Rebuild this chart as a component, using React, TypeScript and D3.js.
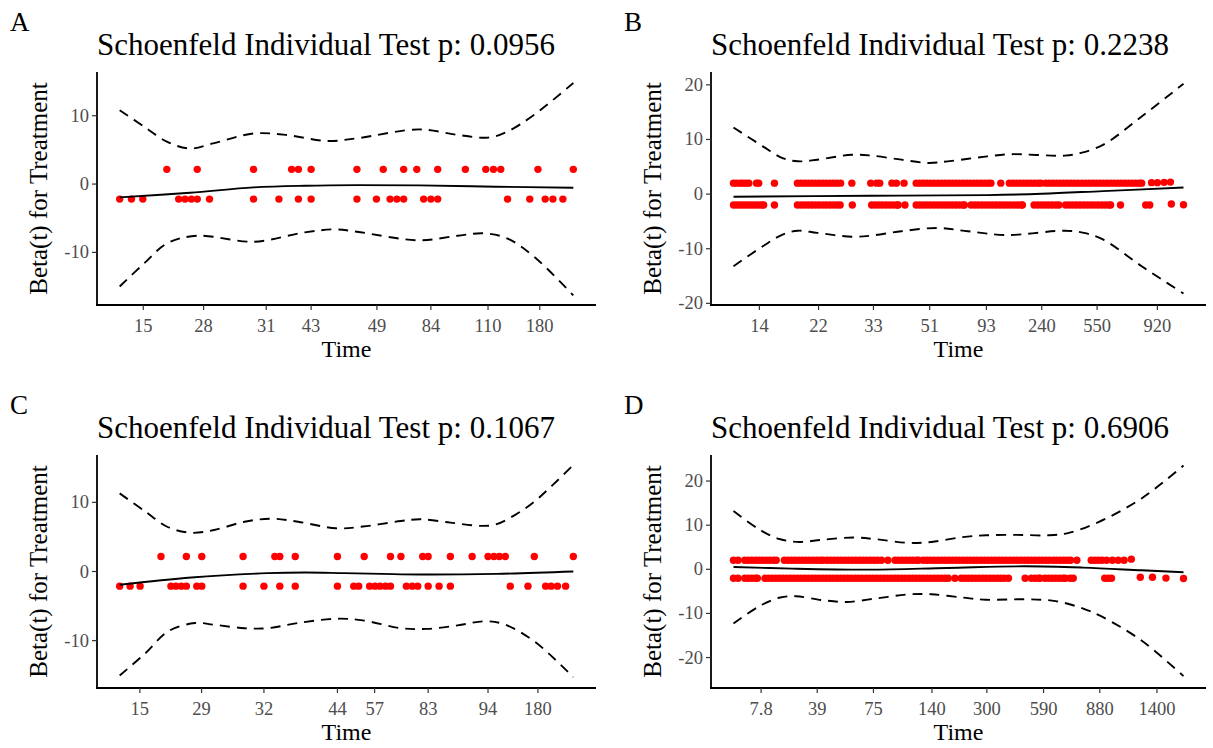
import React from "react";
import * as d3 from "d3";

// ---------- Panel A ----------
const A_TITLE = "Schoenfeld Individual Test p: 0.0956";
const A_TICK_POS = [5.2, 18.5, 32.3, 42.2, 56.7, 68.6, 81.2, 92.6];
const A_TICK_LABELS = ["15", "28", "31", "43", "49", "84", "110", "180"];
const A_Y_TICKS = [-10, 0, 10];
const A_Y_DOMAIN = [-17.7, 16.4];
const A_UP_Y = 2.15;
const A_UP_X = [10.4, 17.1, 29.5, 37.9, 39.4, 42.2, 52.3, 58.1, 62.6, 65.5, 70.1, 76.2, 80.7, 82.4, 84.0, 92.2, 100];
const A_LO_Y = -2.2;
const A_LO_X = [0, 2.6, 5.1, 13.0, 14.4, 15.8, 17.1, 19.8, 29.5, 35.1, 39.4, 42.2, 52.3, 56.6, 59.6, 61.1, 62.6, 67.0, 68.6, 70.1, 85.5, 90.4, 93.8, 95.5, 97.7];
const A_EXTRA: [number, number][] = [];
const A_FIT: [number, number][] = [[0, -1.95], [15.5, -1.27], [29.5, -0.49], [40.8, -0.24], [52.3, -0.15], [66.0, -0.2], [82.9, -0.39], [100, -0.54]];
const A_CI_UP: [number, number][] = [[0, 10.8], [5.4, 8.4], [10.4, 6.2], [15.5, 5.2], [20.6, 5.95], [29.5, 7.4], [36.6, 7.2], [45.8, 6.3], [52.3, 6.7], [66.0, 8.0], [74.5, 7.2], [81.2, 6.8], [85.4, 7.66], [91.3, 10.1], [100, 14.8]];
const A_CI_LO: [number, number][] = [[0, -15.0], [5.4, -11.6], [10.4, -8.7], [17.0, -7.56], [29.5, -8.44], [40.8, -7.07], [47.5, -6.63], [52.3, -6.98], [66.0, -8.24], [74.5, -7.56], [80.4, -7.22], [85.4, -7.95], [91.3, -10.6], [100, -16.3]];

// ---------- Panel B ----------
const B_TITLE = "Schoenfeld Individual Test p: 0.2238";
const B_TICK_POS = [5.75, 18.9, 31.1, 43.6, 56.2, 68.5, 80.8, 94.2];
const B_TICK_LABELS = ["14", "22", "33", "51", "93", "240", "550", "920"];
const B_Y_TICKS = [-20, -10, 0, 10, 20];
const B_Y_DOMAIN = [-20.3, 22.35];
const B_UP_Y = 2.0;
const B_UP_X = [0, 0.7, 1.5, 2.1, 2.8, 3.4, 5.1, 5.6, 9.1,
  14.2, 15.0, 15.8, 16.6, 17.4, 18.2, 19.0, 19.8, 20.6, 21.4, 22.2, 23.0, 23.8,
  26.3, 30.5, 31.8, 32.5, 35.2, 36.2, 37.9,
  40.6, 41.4, 42.2, 43.0, 43.8, 44.6, 45.4, 46.2, 47.0, 47.8, 48.6, 49.4, 50.2, 51.0, 51.8, 52.6, 53.4, 54.2, 55.0, 55.8, 56.6, 57.2,
  59.4,
  61.3, 62.1, 62.9, 63.7, 64.5, 65.3, 66.1, 66.9, 67.7, 68.3,
  69.4, 70.2, 71.0, 71.8, 72.6, 73.4, 74.2, 75.0, 75.8, 76.6, 77.4, 78.2, 79.0, 79.8, 80.6, 81.4, 82.2, 83.0, 83.8, 84.6, 85.4, 86.2, 87.0, 87.8, 88.6, 89.4, 90.2, 90.7];
const B_LO_Y = -2.0;
const B_LO_X = [0, 0.7, 1.4, 2.1, 2.8, 3.5, 4.2, 4.9, 5.6, 6.3, 6.7, 9.1,
  14.2, 15.0, 15.8, 16.6, 17.4, 18.2, 19.0, 19.8, 20.6, 21.4, 22.2, 23.0, 23.7,
  26.4, 30.7, 31.5, 32.3, 33.1, 33.9, 34.7, 35.5, 36.3, 36.6, 38.1,
  40.6, 41.4, 42.2, 43.0, 43.8, 44.6, 45.4, 46.2, 47.0, 47.8, 48.6, 49.4, 50.2, 51.0, 51.3,
  52.8, 53.6, 54.4, 55.2, 56.0, 56.8, 57.6, 58.4, 59.2, 60.0, 60.8, 61.6, 62.4, 63.2, 64.0, 64.2,
  66.8, 67.6, 68.4, 69.2, 70.0, 70.8, 71.6, 72.3,
  73.8, 74.6, 75.4, 76.2, 77.0, 77.8, 78.6, 79.4, 80.2, 81.0, 81.8, 82.6, 83.4, 83.8,
  86.0, 91.6, 92.5];
const B_EXTRA: [number, number][] = [[92.9, 2.1], [94.2, 2.1], [95.7, 2.15], [97.1, 2.2], [97.3, -1.8], [100, -1.95]];
const B_FIT: [number, number][] = [[0, -0.49], [30.6, -0.3], [56.4, -0.18], [68.5, 0.06], [82.1, 0.55], [100, 1.2]];
const B_CI_UP: [number, number][] = [[0, 12.2], [6.6, 8.7], [10.9, 6.6], [14.3, 6.0], [18.6, 6.3], [26.3, 7.2], [30.6, 7.05], [37.3, 6.3], [43.3, 5.7], [47.6, 6.0], [56.4, 6.9], [61.5, 7.3], [73.6, 7.05], [77.0, 7.5], [82.1, 9.0], [90.7, 14.2], [100, 20.2]];
const B_CI_LO: [number, number][] = [[0, -13.2], [6.6, -9.5], [10.9, -7.4], [14.3, -6.7], [18.6, -7.1], [26.3, -7.8], [30.6, -7.6], [37.3, -6.8], [45.3, -6.2], [52.1, -6.8], [60.7, -7.5], [73.6, -6.7], [77.9, -7.1], [82.1, -8.3], [90.7, -13.2], [100, -18.2]];

// ---------- Panel C ----------
const C_TITLE = "Schoenfeld Individual Test p: 0.1067";
const C_TICK_POS = [4.45, 18.05, 31.8, 48.0, 56.2, 68.0, 81.2, 92.2];
const C_TICK_LABELS = ["15", "29", "32", "44", "57", "83", "94", "180"];
const C_Y_TICKS = [-10, 0, 10];
const C_Y_DOMAIN = [-16.85, 16.85];
const C_UP_Y = 2.16;
const C_UP_X = [9.1, 14.7, 18.1, 27.2, 34.2, 35.3, 38.7, 48.0, 53.9, 59.7, 62.0, 66.8, 68.0, 72.9, 77.7, 81.2, 82.5, 83.7, 85.0, 91.4, 100];
const C_LO_Y = -2.12;
const C_LO_X = [0, 2.3, 4.5, 11.3, 12.4, 13.6, 14.7, 17.0, 18.1, 27.2, 31.8, 35.3, 38.7, 48.0, 51.6, 52.7, 55.1, 56.3, 57.4, 58.6, 59.7, 63.2, 64.5, 65.7, 68.0, 70.4, 72.9, 86.1, 90.0, 93.9, 95.1, 96.5, 98.3];
const C_EXTRA: [number, number][] = [];
const C_FIT: [number, number][] = [[0, -1.92], [15.8, -0.87], [32.6, -0.24], [41.0, -0.14], [49.4, -0.24], [57.8, -0.34], [66.2, -0.43], [83.0, -0.34], [100, 0]];
const C_CI_UP: [number, number][] = [[0, 11.3], [5.7, 8.65], [10.7, 6.4], [15.8, 5.6], [20.8, 6.0], [27.5, 7.2], [33.4, 7.64], [39.3, 7.2], [47.7, 6.25], [53.6, 6.5], [62.0, 7.3], [66.2, 7.55], [72.9, 7.07], [79.6, 6.6], [82.9, 6.8], [87.2, 8.2], [91.4, 10.1], [100, 15.4]];
const C_CI_LO: [number, number][] = [[0, -15.05], [5.7, -11.8], [10.7, -8.65], [16.6, -7.45], [20.8, -7.7], [27.5, -8.2], [32.6, -8.2], [39.3, -7.45], [47.7, -6.83], [53.6, -7.07], [62.0, -8.2], [67.8, -8.3], [74.5, -7.8], [80.4, -7.2], [84.6, -7.6], [91.4, -10.1], [100, -15.3]];

// ---------- Panel D ----------
const D_TITLE = "Schoenfeld Individual Test p: 0.6906";
const D_TICK_POS = [6.13, 18.6, 31.1, 44.1, 56.3, 68.9, 81.4, 94.1];
const D_TICK_LABELS = ["7.8", "39", "75", "140", "300", "590", "880", "1400"];
const D_Y_TICKS = [-20, -10, 0, 10, 20];
const D_Y_DOMAIN = [-26.9, 25.9];
const D_UP_Y = 2.04;
const D_UP_X = [0, 1.0, 2.5, 3.3, 4.1, 4.9, 5.7, 6.5, 7.3, 8.1, 8.9, 9.5,
  11.3, 12.1, 12.9, 13.7, 14.5, 15.3, 16.1, 16.9, 17.7, 18.5, 19.3, 19.9,
  20.8, 21.6, 22.4, 23.2, 24.0, 24.8, 25.6, 26.4, 27.2, 28.0, 28.8, 29.6, 30.4, 31.2, 32.0, 32.9,
  34.3, 35.9, 36.7, 37.5, 38.3, 39.1, 39.9, 40.7, 41.1,
  42.2, 43.0, 43.8, 44.6, 45.4, 46.2, 47.0, 47.8, 48.6, 49.4, 50.2, 51.0, 51.8, 52.6, 53.4, 54.2, 55.0, 55.8, 56.6, 57.4, 58.2, 59.0, 59.8, 60.6, 61.4, 62.2, 63.0, 63.8, 64.6, 65.4, 66.2, 67.0, 67.8, 68.6, 69.4, 70.2, 71.1,
  71.8, 72.6, 73.4, 74.2, 74.9, 76.3,
  79.5, 80.3, 81.1, 81.9, 82.9,
  84.2, 85.5, 86.8];
const D_LO_Y = -2.04;
const D_LO_X = [0, 1.0, 2.5, 3.3, 4.1, 4.9, 5.3,
  7.0, 7.8, 8.6, 9.4, 10.2, 11.0, 11.8, 12.6,
  13.4, 14.2, 15.0, 15.8, 16.6, 17.4, 18.2, 19.0, 19.8, 20.6, 21.4, 22.2,
  23.0, 23.8, 24.6, 25.4, 26.2, 27.0, 27.8, 28.6, 29.4, 30.2, 31.0, 31.8, 32.6, 33.4, 34.2, 35.0, 35.8, 36.6, 37.4, 38.2, 39.0, 39.8, 40.6, 41.4, 42.2, 43.0, 43.8, 44.6, 45.4, 46.2, 47.0, 47.7,
  49.2,
  50.6, 51.4, 52.2, 53.0, 53.8, 54.6, 55.4, 56.2, 57.0, 57.8, 58.6, 59.4, 60.2, 61.1,
  64.8, 66.2, 67.0, 67.8, 68.1,
  69.2, 70.0, 70.8, 71.6, 72.4, 73.2, 73.7,
  74.8, 75.5,
  82.5, 83.3, 84.0];
const D_EXTRA: [number, number][] = [[88.4, 2.3], [90.4, -1.8], [93.1, -1.8], [96.1, -2.0], [100, -2.1]];
const D_FIT: [number, number][] = [[0, 0.53], [13.0, 0.15], [30.3, -0.08], [47.5, 0.3], [64.8, 0.68], [77.7, 0.38], [90.6, -0.23], [100, -0.68]];
const D_CI_UP: [number, number][] = [[0, 13.2], [6.1, 8.8], [10.4, 6.8], [14.7, 6.2], [19.8, 6.7], [26.7, 7.2], [31.8, 6.8], [38.7, 6.0], [44.0, 6.2], [50.9, 7.3], [56.1, 7.7], [63.0, 7.8], [69.9, 7.7], [74.3, 8.2], [81.1, 10.7], [90.6, 16.0], [100, 23.5]];
const D_CI_LO: [number, number][] = [[0, -12.3], [6.1, -8.15], [10.4, -6.4], [13.9, -6.1], [19.8, -7.0], [25.1, -7.4], [31.8, -6.6], [38.7, -5.7], [44.0, -5.66], [50.9, -6.4], [56.1, -6.9], [64.8, -6.8], [71.6, -7.2], [77.7, -8.9], [82.0, -10.8], [90.6, -16.1], [100, -24.2]];

const FONT = "'Liberation Serif', 'Times New Roman', serif";

type PanelData = {
  label: string; title: string;
  tickPos: number[]; tickLabels: string[]; yTicks: number[]; yDomain: number[];
  upY: number; upX: number[]; loY: number; loX: number[]; extra: [number, number][];
  fit: [number, number][]; ciUp: [number, number][]; ciLo: [number, number][];
};
type Box = { left: number; right: number; top: number; bottom: number; labelX: number };

const PANELS: PanelData[] = [
  { label: "A", title: A_TITLE, tickPos: A_TICK_POS, tickLabels: A_TICK_LABELS, yTicks: A_Y_TICKS, yDomain: A_Y_DOMAIN, upY: A_UP_Y, upX: A_UP_X, loY: A_LO_Y, loX: A_LO_X, extra: A_EXTRA, fit: A_FIT, ciUp: A_CI_UP, ciLo: A_CI_LO },
  { label: "B", title: B_TITLE, tickPos: B_TICK_POS, tickLabels: B_TICK_LABELS, yTicks: B_Y_TICKS, yDomain: B_Y_DOMAIN, upY: B_UP_Y, upX: B_UP_X, loY: B_LO_Y, loX: B_LO_X, extra: B_EXTRA, fit: B_FIT, ciUp: B_CI_UP, ciLo: B_CI_LO },
  { label: "C", title: C_TITLE, tickPos: C_TICK_POS, tickLabels: C_TICK_LABELS, yTicks: C_Y_TICKS, yDomain: C_Y_DOMAIN, upY: C_UP_Y, upX: C_UP_X, loY: C_LO_Y, loX: C_LO_X, extra: C_EXTRA, fit: C_FIT, ciUp: C_CI_UP, ciLo: C_CI_LO },
  { label: "D", title: D_TITLE, tickPos: D_TICK_POS, tickLabels: D_TICK_LABELS, yTicks: D_Y_TICKS, yDomain: D_Y_DOMAIN, upY: D_UP_Y, upX: D_UP_X, loY: D_LO_Y, loX: D_LO_X, extra: D_EXTRA, fit: D_FIT, ciUp: D_CI_UP, ciLo: D_CI_LO },
];

const BOXES: Box[] = [
  { left: 97, right: 596, top: 72, bottom: 305, labelX: 10 },
  { left: 711, right: 1206, top: 72, bottom: 305, labelX: 624 },
  { left: 97, right: 596, top: 455, bottom: 688, labelX: 10 },
  { left: 711, right: 1206, top: 455, bottom: 688, labelX: 624 },
];

function Panel({ d, b }: { d: PanelData; b: Box }) {
  const x = d3.scaleLinear().domain([-5, 105]).range([b.left, b.right]);
  const y = d3.scaleLinear().domain(d.yDomain).range([b.bottom, b.top]);
  const line = d3.line<[number, number]>().x((p) => x(p[0])).y((p) => y(p[1])).curve(d3.curveCatmullRom.alpha(0.5));
  const pts: [number, number][] = [
    ...d.upX.map((v) => [v, d.upY] as [number, number]),
    ...d.loX.map((v) => [v, d.loY] as [number, number]),
    ...d.extra,
  ];
  const yTitleCx = (b.top + b.bottom) / 2;
  return (
    <g fontFamily={FONT}>
      <text x={b.labelX} y={b.top - 41} fontSize={27} fill="#000">{d.label}</text>
      <text x={b.left} y={b.top - 17} fontSize={31} fill="#000">{d.title}</text>
      {pts.map((p, i) => (
        <circle key={i} cx={x(p[0])} cy={y(p[1])} r={3.7} fill="#FF0000" />
      ))}
      <path d={line(d.fit) || ""} fill="none" stroke="#000" strokeWidth={1.9} />
      <path d={line(d.ciUp) || ""} fill="none" stroke="#000" strokeWidth={1.9} strokeDasharray="10,7" />
      <path d={line(d.ciLo) || ""} fill="none" stroke="#000" strokeWidth={1.9} strokeDasharray="10,7" />
      <line x1={b.left} x2={b.left} y1={b.top} y2={b.bottom + 0.9} stroke="#000" strokeWidth={1.8} />
      <line x1={b.left - 0.9} x2={b.right} y1={b.bottom} y2={b.bottom} stroke="#000" strokeWidth={1.8} />
      {d.yTicks.map((t) => (
        <g key={"y" + t}>
          <line x1={b.left - 5} x2={b.left} y1={y(t)} y2={y(t)} stroke="#333" strokeWidth={1.2} />
          <text x={b.left - 8} y={y(t) + 6} fontSize={18.5} fill="#4D4D4D" textAnchor="end">{String(t)}</text>
        </g>
      ))}
      {d.tickPos.map((t, i) => (
        <g key={"x" + i}>
          <line x1={x(t)} x2={x(t)} y1={b.bottom} y2={b.bottom + 5} stroke="#333" strokeWidth={1.2} />
          <text x={x(t)} y={b.bottom + 27} fontSize={18.5} fill="#4D4D4D" textAnchor="middle">{d.tickLabels[i]}</text>
        </g>
      ))}
      <text x={(b.left + b.right) / 2} y={b.bottom + 52} fontSize={24} fill="#000" textAnchor="middle">Time</text>
      <text transform={`translate(${b.left - 50},${yTitleCx}) rotate(-90)`} fontSize={25} fill="#000" textAnchor="middle">Beta(t) for Treatment</text>
    </g>
  );
}

export default function App() {
  return (
    <svg width={1213} height={748} style={{ position: "absolute", left: 0, top: 0, background: "#fff" }}>
      <rect x={0} y={0} width={1213} height={748} fill="#fff" />
      {PANELS.map((p, i) => (
        <Panel key={p.label} d={p} b={BOXES[i]} />
      ))}
    </svg>
  );
}
